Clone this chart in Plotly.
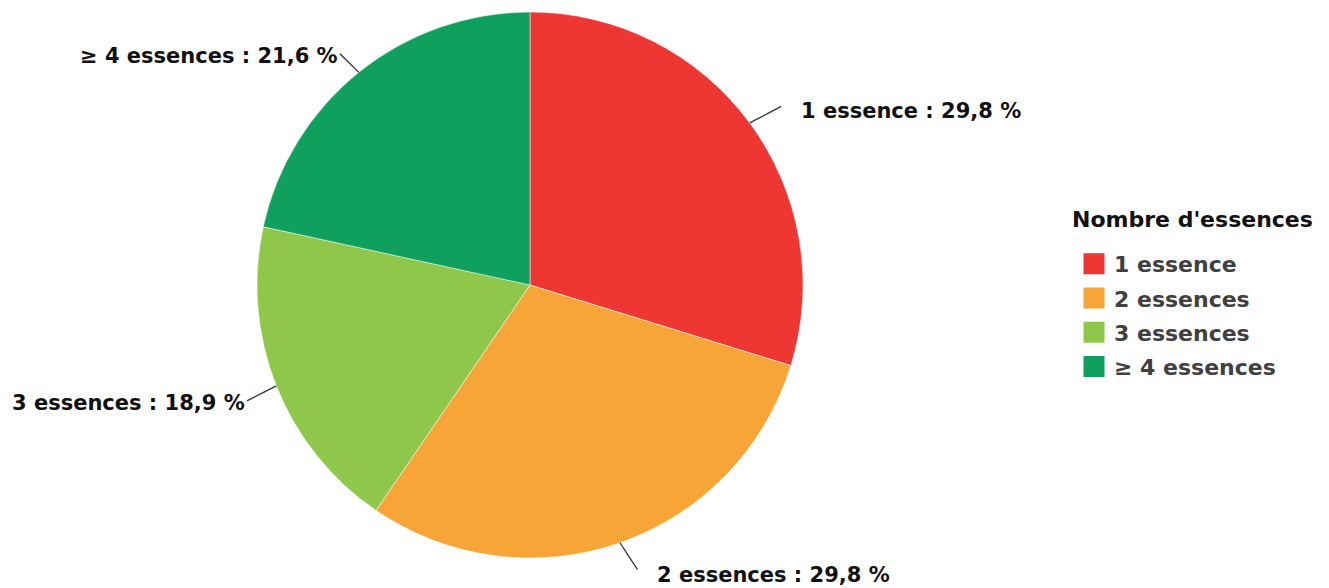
import math
import plotly.graph_objects as go

# ---- data ----
categories = ["1 essence", "2 essences", "3 essences", "≥ 4 essences"]
values = [29.8, 29.8, 18.9, 21.6]
colors = ["#EE3632", "#F8A537", "#8FC74B", "#10A05E"]
legend_title = "Nombre d'essences"

# ---- layout / style constants ----
W, H = 1329, 588
CX, CY, R = 530, 285, 273
LABEL_DX = [0, 4, 1, 0]     # small horizontal nudges of the outside labels
LABEL_DY = [11, -4, 3, 13]  # small vertical nudges of the outside labels
FONT = "DejaVu Sans"

fig = go.Figure()
fig.add_trace(
    go.Pie(
        labels=categories,
        values=values,
        sort=False,
        direction="clockwise",
        rotation=0,
        marker=dict(colors=colors, line=dict(color="white", width=0.5)),
        textinfo="none",
        hoverinfo="label+percent",
        showlegend=False,
        domain=dict(
            x=[(CX - R) / W, (CX + R) / W],
            y=[1 - (CY + R) / H, 1 - (CY - R) / H],
        ),
    )
)

# legend entries (one per category, same colours as the slices)
for lab, col in zip(categories, colors):
    fig.add_trace(
        go.Scatter(
            x=[None], y=[None], mode="markers", name=lab, legendgroup=lab,
            marker=dict(symbol="square", size=16, color=col, line=dict(color=col, width=5)),
            hoverinfo="skip", showlegend=True,
        )
    )

total = sum(values)
cum = 0.0
shapes = []
annotations = []
for i, (lab, v) in enumerate(zip(categories, values)):
    mid = (cum + v / 2) / total * 2 * math.pi
    cum += v
    s, c = math.sin(mid), math.cos(mid)
    ex, ey = CX + R * s, CY - R * c
    bx, by = CX + (R + 38) * s, CY - (R + 38) * c
    right = s > 0
    ax = bx + (19 if right else 5) + LABEL_DX[i]
    ay = by + LABEL_DY[i]
    if right:
        lx, ly = ax - 18, ay - 5
    else:
        lx, ly = ax + 0, ay - 2
    shapes.append(dict(type="line", xref="paper", yref="paper",
                       x0=ex / W, y0=1 - ey / H, x1=lx / W, y1=1 - ly / H,
                       line=dict(color="#333333", width=1.3)))
    txt = f"{lab} : {v:.1f} %".replace(".", ",")
    annotations.append(dict(text=txt, xref="paper", yref="paper",
                            x=ax / W, y=1 - ay / H,
                            xanchor="left" if right else "right", yanchor="middle",
                            showarrow=False,
                            font=dict(family=FONT, size=21, color="#111111", weight="bold")))

# legend title
annotations.append(dict(text=legend_title, xref="paper", yref="paper",
                        x=1070 / W, y=1 - 219 / H, xanchor="left", yanchor="middle",
                        showarrow=False,
                        font=dict(family=FONT, size=22, color="#111111", weight="bold")))

fig.update_layout(
    width=W, height=H,
    margin=dict(l=0, r=0, t=0, b=0),
    paper_bgcolor="white", plot_bgcolor="white",
    xaxis=dict(visible=False), yaxis=dict(visible=False),
    shapes=shapes, annotations=annotations,
    showlegend=True,
    legend=dict(
        font=dict(family=FONT, size=22, color="#404040", weight="bold"),
        x=1074 / W, xanchor="left",
        y=1 - 243 / H, yanchor="top",
        tracegroupgap=2.6,
        bgcolor="rgba(0,0,0,0)",
    ),
)

fig.write_html("out.html")
